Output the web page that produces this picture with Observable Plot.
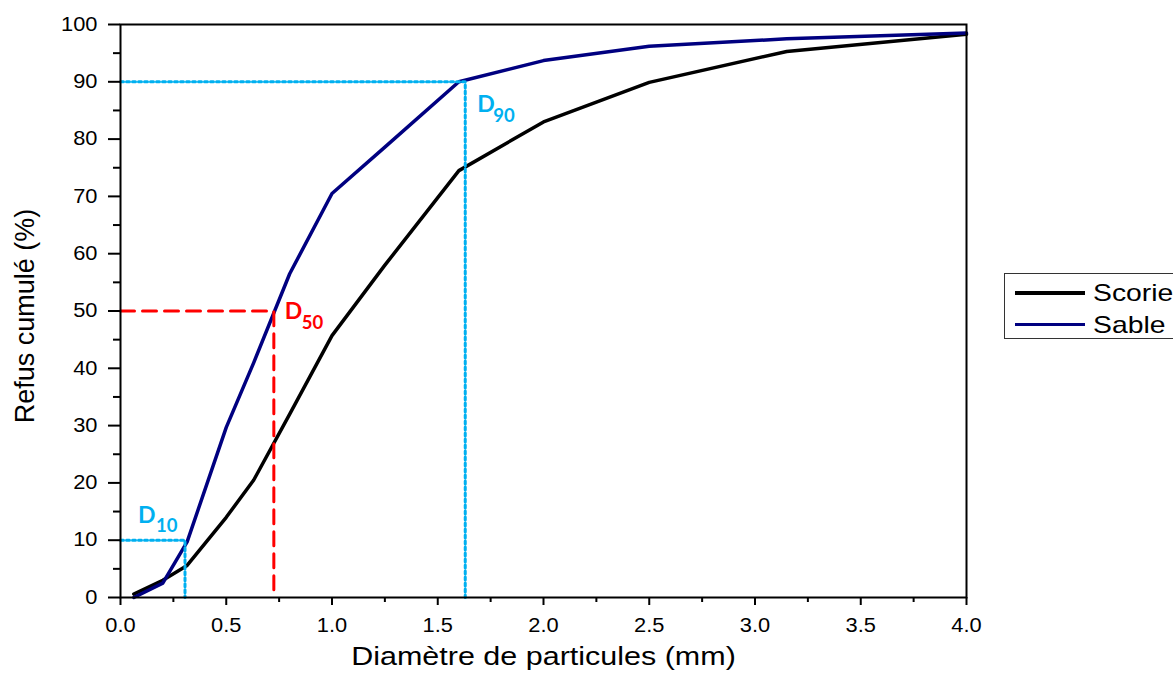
<!DOCTYPE html>
<html><head><meta charset="utf-8">
<script src="https://cdn.jsdelivr.net/npm/d3@7"></script>
<script src="https://cdn.jsdelivr.net/npm/@observablehq/plot@0.6"></script>
<style>
html,body{margin:0;padding:0;background:#fff;overflow:hidden;width:1173px;height:682px}
#wrap{position:relative;width:1173px;height:682px}
#legend{position:absolute;left:1004px;top:273px;width:230px;height:66px;border:1px solid #333;box-sizing:border-box;font-family:"Liberation Sans",Arial,sans-serif;background:#fff}
#legend .row{position:absolute;left:0;height:30px;white-space:nowrap}
#legend .sw{position:absolute;left:10px;width:70px}
#legend .lab{position:absolute;left:88px;top:0;font-size:24px;line-height:30px;transform:scaleX(1.18);transform-origin:left center;color:#000}
</style></head><body><div id="wrap"></div>
<script>
// ---- data ----
const sieves = [0.063, 0.2, 0.315, 0.5, 0.63, 0.8, 1.0, 1.25, 1.6, 2.0, 2.5, 3.15, 4.0];
const scorie = [0.6, 3.0, 5.6, 14, 20.5, 32, 45.7, 58, 74.5, 83, 89.9, 95.3, 98.3];
const sable  = [0.0, 2.5, 9.7, 29.7, 41, 56.5, 70.5, 78.6, 90, 93.7, 96.2, 97.5, 98.5];
const seriesNames = ["Scorie", "Sable"];
const seriesColors = ["#000000", "#000080"];
const dLevels = [10, 50, 90];
const dValues = [0.305, 0.725, 1.63];
const dSubs = ["10", "50", "90"];
const dColors = ["#00b0f0", "#ff0000", "#00b0f0"];
const xTicks = [0, 0.5, 1, 1.5, 2, 2.5, 3, 3.5, 4];
const xTickLabels = ["0.0","0.5","1.0","1.5","2.0","2.5","3.0","3.5","4.0"];
const xMinor = [0.25, 0.75, 1.25, 1.75, 2.25, 2.75, 3.25, 3.75];
const yTicks = [0,10,20,30,40,50,60,70,80,90,100];
const yMinor = [5,15,25,35,45,55,65,75,85,95];
const xTitle = "Diamètre de particules (mm)";
const yTitle = "Refus cumulé (%)";

// ---- build ----
const rows = [];
sieves.forEach((s, i) => {
  rows.push({series: seriesNames[0], d: s, v: scorie[i]});
  rows.push({series: seriesNames[1], d: s, v: sable[i]});
});
const guides = dValues.map((dv, i) => [
  {x: 0, y: dLevels[i]}, {x: dv, y: dLevels[i]}, {x: dv, y: 0}
]);

const dOffsets = [
  {D: [-47, -25], S: [-29, -14]},
  {D: [11, 1], S: [28, 12]},
  {D: [12, 23], S: [28, 34]}
];
const dFont = "Lato, 'Open Sans', sans-serif";

const marks = [
  Plot.line(rows, {x: "d", y: "v", z: "series", stroke: "series", strokeWidth: 3.5, curve: "linear"}),
  ...guides.map((g, i) => Plot.line(g, {x: "x", y: "y", stroke: dColors[i], strokeWidth: 3,
      strokeDasharray: i === 1 ? "14 8" : "3 3"})),
  ...dLevels.map((lv, i) => Plot.text([{x: dValues[i], y: lv}], {x: "x", y: "y", text: () => "D",
      fill: dColors[i], fontSize: 23, fontWeight: "bold", fontFamily: dFont,
      textAnchor: "start", dx: dOffsets[i].D[0], dy: dOffsets[i].D[1]})),
  ...dLevels.map((lv, i) => Plot.text([{x: dValues[i], y: lv}], {x: "x", y: "y", text: () => dSubs[i],
      fill: dColors[i], fontSize: 18.5, fontWeight: "bold", fontFamily: dFont,
      textAnchor: "start", dx: dOffsets[i].S[0], dy: dOffsets[i].S[1]})),
  Plot.axisX({ticks: xMinor, tickSize: 5, text: null, strokeWidth: 2, label: null}),
  Plot.axisX({ticks: xTicks, tickSize: 8, tickPadding: 13, strokeWidth: 2, fontSize: 19.5, label: null,
      tickFormat: (d) => xTickLabels[xTicks.indexOf(d)]}),
  Plot.axisY({ticks: yMinor, tickSize: 7, text: null, strokeWidth: 2, label: null}),
  Plot.axisY({ticks: yTicks, tickSize: 12, tickPadding: 11, strokeWidth: 2, fontSize: 19.5, label: null,
      tickFormat: (d) => String(d)}),
  Plot.frame({stroke: "#000", strokeWidth: 2}),
  Plot.text([xTitle], {frameAnchor: "bottom", dy: 67, fontSize: 25}),
  Plot.text([yTitle], {frameAnchor: "left", textAnchor: "middle", rotate: -90, dx: -95, dy: 5, fontSize: 27})
];

const chart = Plot.plot({
  width: 1173, height: 682,
  marginLeft: 120, marginRight: 207, marginTop: 24, marginBottom: 85,
  style: {fontFamily: "'Liberation Sans', Arial, sans-serif", color: "#000", background: "#fff", overflow: "visible"},
  x: {domain: [0, 4], axis: null},
  y: {domain: [0, 100], axis: null},
  color: {domain: seriesNames, range: seriesColors},
  marks
});

// horizontally widen axis texts to match the reference letterforms
chart.querySelectorAll("text").forEach(t => {
  const g = t.parentNode;
  const al = (g && g.getAttribute && g.getAttribute("aria-label")) || "";
  let k = null;
  if (/tick label/.test(al)) k = 1.12;
  else if (t.textContent === xTitle) k = 1.22;
  if (k) t.setAttribute("transform", ((t.getAttribute("transform") || "") + ` scale(${k},1)`).trim());
});

const wrap = document.getElementById("wrap");
wrap.appendChild(chart);

// legend
const legend = document.createElement("div");
legend.id = "legend";
seriesNames.forEach((name, i) => {
  const row = document.createElement("div");
  row.className = "row";
  row.style.top = (i === 0 ? 4 : 36) + "px";
  const sw = document.createElement("div");
  sw.className = "sw";
  sw.style.top = "13px";
  sw.style.height = (i === 0 ? 4 : 3) + "px";
  sw.style.background = seriesColors[i];
  const lab = document.createElement("div");
  lab.className = "lab";
  lab.textContent = name;
  row.appendChild(sw); row.appendChild(lab);
  legend.appendChild(row);
});
wrap.appendChild(legend);
</script></body></html>
